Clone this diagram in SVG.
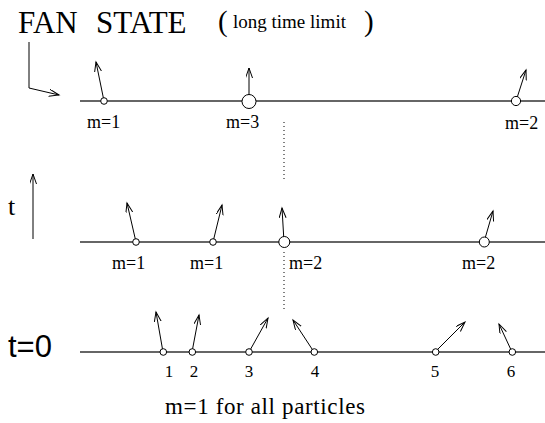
<svg xmlns="http://www.w3.org/2000/svg" width="545" height="423" viewBox="0 0 545 423">
<style>
.serif{font-family:'Liberation Serif','Times New Roman',serif;fill:#000}
.sans{font-family:'Liberation Sans',Arial,sans-serif;fill:#000}
.lbl{font-size:18px}
.num{font-size:17px;text-anchor:middle}
.axis{stroke:#333;stroke-width:1.3;fill:none}
.arr{stroke:#000;stroke-width:1;fill:none;marker-end:url(#v)}
.p{fill:#fff;stroke:#000;stroke-width:1}
.dot{stroke:#000;stroke-width:1;stroke-dasharray:1 3;fill:none}
</style>
<defs>
<marker id="v" markerWidth="12" markerHeight="8" refX="10" refY="3.5" orient="auto" markerUnits="userSpaceOnUse">
<path d="M0,0 L10,3.5 L0,7" fill="none" stroke="#000" stroke-width="1"/>
</marker>
</defs>

<g id="title">
<text class="serif" x="18" y="33" font-size="31">FAN</text>
<text class="serif" x="96" y="33" font-size="31">STATE</text>
<text class="serif" x="218" y="31" font-size="29">(</text>
<text class="serif" x="233" y="28" font-size="19">long time limit</text>
<text class="serif" x="364" y="31" font-size="29">)</text>
</g>

<g id="connectors">
<path class="arr" d="M29,42 L29,88 L59,95"/>
<line class="arr" x1="33" y1="239" x2="33" y2="174"/>
<line class="dot" x1="284" y1="122" x2="284" y2="179"/>
<line class="dot" x1="284" y1="252" x2="284" y2="309"/>
</g>

<g id="line-top"><line class="axis" x1="80" y1="101" x2="545" y2="101"/></g>
<g id="line-mid"><line class="axis" x1="80" y1="242" x2="545" y2="242"/></g>
<g id="line-bot"><line class="axis" x1="80" y1="352" x2="545" y2="352"/></g>

<g id="t-label"><text class="serif" x="8" y="215" font-size="26">t</text></g>
<g id="t0-label"><text class="sans" x="8" y="357" font-size="31">t=0</text></g>

<!-- top row -->
<g id="top-p1">
<line class="arr" x1="104" y1="101" x2="96" y2="62"/>
<circle class="p" cx="104" cy="101" r="3.3"/>
<text class="serif lbl" x="87" y="128">m=1</text>
</g>
<g id="top-p2">
<line class="arr" x1="249" y1="101" x2="249" y2="68"/>
<circle class="p" cx="249" cy="101.5" r="7"/>
<text class="serif lbl" x="226" y="128">m=3</text>
</g>
<g id="top-p3">
<line class="arr" x1="516" y1="101" x2="526" y2="70"/>
<circle class="p" cx="516" cy="101" r="4.6"/>
<text class="serif lbl" x="505" y="129">m=2</text>
</g>

<!-- middle row -->
<g id="mid-p1">
<line class="arr" x1="136" y1="242" x2="127" y2="203"/>
<circle class="p" cx="136" cy="242" r="3.3"/>
<text class="serif lbl" x="112" y="269">m=1</text>
</g>
<g id="mid-p2">
<line class="arr" x1="213" y1="242" x2="222" y2="205"/>
<circle class="p" cx="213" cy="242" r="3.3"/>
<text class="serif lbl" x="190" y="269">m=1</text>
</g>
<g id="mid-p3">
<line class="arr" x1="284" y1="242" x2="282" y2="208"/>
<circle class="p" cx="284.3" cy="242" r="5.5"/>
<text class="serif lbl" x="289" y="269">m=2</text>
</g>
<g id="mid-p4">
<line class="arr" x1="484" y1="242" x2="493" y2="211"/>
<circle class="p" cx="484.3" cy="242" r="5"/>
<text class="serif lbl" x="462" y="269">m=2</text>
</g>

<!-- bottom row -->
<g id="bot-p1">
<line class="arr" x1="163" y1="352" x2="156" y2="312"/>
<circle class="p" cx="163.3" cy="352" r="3.3"/>
<text class="serif num" x="169" y="377">1</text>
</g>
<g id="bot-p2">
<line class="arr" x1="192" y1="352" x2="199" y2="315"/>
<circle class="p" cx="192.3" cy="352" r="3.3"/>
<text class="serif num" x="194" y="377">2</text>
</g>
<g id="bot-p3">
<line class="arr" x1="249" y1="352" x2="268" y2="318"/>
<circle class="p" cx="249" cy="352" r="3.3"/>
<text class="serif num" x="249" y="377">3</text>
</g>
<g id="bot-p4">
<line class="arr" x1="314" y1="352" x2="293" y2="320"/>
<circle class="p" cx="314.3" cy="352" r="3.3"/>
<text class="serif num" x="315" y="377">4</text>
</g>
<g id="bot-p5">
<line class="arr" x1="435" y1="352" x2="465" y2="322"/>
<circle class="p" cx="435.7" cy="352" r="3.3"/>
<text class="serif num" x="435" y="377">5</text>
</g>
<g id="bot-p6">
<line class="arr" x1="512" y1="352" x2="499" y2="324"/>
<circle class="p" cx="512.3" cy="352" r="3.3"/>
<text class="serif num" x="511" y="377">6</text>
</g>

<g id="caption"><text class="serif" x="165" y="414" font-size="23" textLength="200" lengthAdjust="spacing">m=1 for all particles</text></g>
</svg>
